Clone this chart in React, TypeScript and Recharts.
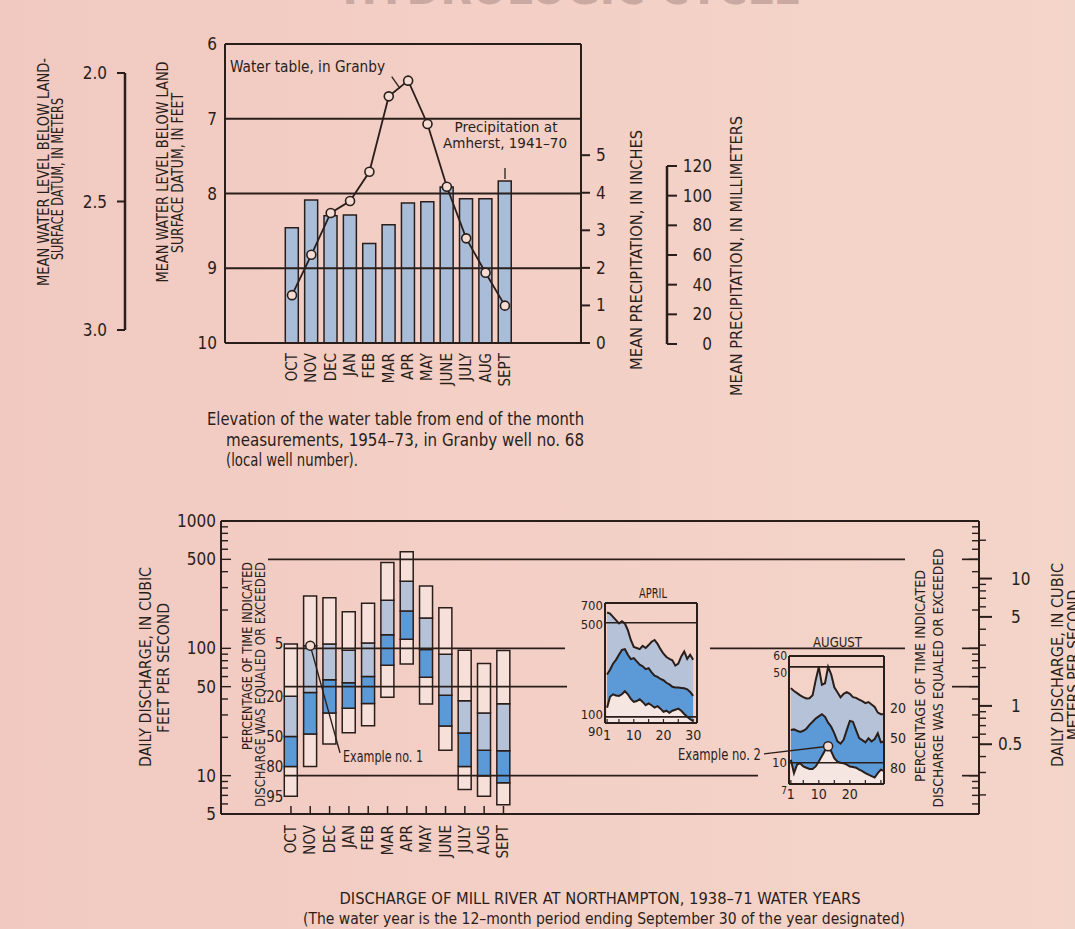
import React from "react";
import {
  ComposedChart,
  Bar,
  Line,
  Area,
  XAxis,
  YAxis,
  ReferenceLine,
  ReferenceDot,
} from "recharts";

const W = 1075;
const H = 929;
const FONT = "'Liberation Sans Narrow', 'Arial Narrow', 'DejaVu Sans Condensed', sans-serif";
const INK = "#2a1e1b";
const BAR_BLUE = "#a9bdd9";
const LIGHT_BLUE = "#b6c2d8";
const MID_BLUE = "#5b9ad7";
const PALE = "#f6e0d9";
const PALE_INSET = "#f5e6e2";
const DOT_FILL = "#f5dcd3";

// ---------- Top chart data ----------
const months = ["OCT", "NOV", "DEC", "JAN", "FEB", "MAR", "APR", "MAY", "JUNE", "JULY", "AUG", "SEPT"];
const monthIdx = [0, 1, 2, 3, 4, 5, 6, 7, 8, 9, 10, 11];
const precipInches = [3.07, 3.81, 3.39, 3.41, 2.65, 3.15, 3.73, 3.76, 4.15, 3.84, 3.84, 4.31];
const waterTableFeet = [9.36, 8.82, 8.26, 8.1, 7.71, 6.7, 6.49, 7.07, 7.91, 8.6, 9.06, 9.5];
const feetTicks = [6, 7, 8, 9, 10];
const inchTicks = [0, 1, 2, 3, 4, 5];
const meterTicks = [2.0, 2.5, 3.0];
const mmTicks = [0, 20, 40, 60, 80, 100, 120];

// ---------- Bottom chart data (cfs, flow-duration percentiles) ----------
const p5 = [108, 258, 250, 194, 226, 473, 574, 309, 208, 96.5, 76, 96];
const p20 = [42, 105, 108, 96.5, 110, 239, 337, 173, 89.7, 38.7, 31, 36.7];
const p50 = [20.3, 45, 56.6, 53.6, 60.1, 128, 196, 98, 42.8, 21.6, 15.8, 15.7];
const p80 = [11.8, 21.2, 31, 33.8, 36.9, 73.6, 118, 59.3, 24.5, 11.8, 10, 8.8];
const p95 = [6.9, 11.8, 17.7, 21.7, 24.7, 41.3, 75.5, 36.5, 15.8, 7.8, 6.9, 5.9];
const pctLabels = ["5", "20", "50", "80", "95"];
const cfsTicks = [5, 6, 7, 8, 9, 10, 20, 30, 40, 50, 60, 70, 80, 90, 100, 200, 300, 400, 500, 600, 700, 800, 900, 1000];
const cfsLabeled = [5, 10, 50, 100, 500, 1000];
const cmsTicks = [0.2, 0.3, 0.4, 0.5, 0.6, 0.7, 0.8, 0.9, 1, 2, 3, 4, 5, 6, 7, 8, 9, 10, 20];
const cmsLabeled = [0.5, 1, 5, 10];
const CFS_PER_CMS = 35.315;

// ---------- April inset ----------
const aprDays = [1, 2, 3, 4, 5, 6, 7, 8, 9, 10, 11, 12, 13, 14, 15, 16, 17, 18, 19, 20, 21, 22, 23, 24, 25, 26, 27, 28, 29, 30];
const aprP20 = [595, 584, 552, 522, 493, 512, 493, 440, 372, 330, 324, 318, 336, 324, 341, 361, 372, 348, 318, 294, 278, 269, 263, 240, 248, 281, 306, 269, 289, 265];
const aprP50 = [206, 224, 248, 265, 289, 314, 318, 289, 268, 273, 258, 244, 237, 226, 230, 214, 202, 198, 191, 187, 179, 174, 167, 165, 165, 164, 163, 160, 153, 143];
const aprP80 = [117, 141, 147, 144, 143, 147, 155, 147, 136, 129, 131, 135, 129, 122, 126, 122, 117, 120, 115, 109, 111, 107, 111, 113, 115, 111, 105, 100, 96, 93];
const aprYTicks = [90, 100, 500, 700];
const aprXTicks = [1, 5, 10, 15, 20, 25, 30];
const aprXLabels = [1, 10, 20, 30];

// ---------- August inset ----------
const augDays = [1, 2, 3, 4, 5, 6, 7, 8, 9, 10, 11, 12, 13, 14, 15, 16, 17, 18, 19, 20, 21, 22, 23, 24, 25, 26, 27, 28, 29, 30, 31];
const augP20 = [35, 33.3, 32.2, 31, 30.1, 29.4, 29.5, 31, 40, 50, 37, 38, 50, 44, 35.5, 32.7, 30, 31.8, 32.7, 31.8, 30.1, 29.7, 28.8, 28.1, 27.2, 27.7, 26.6, 25.5, 23.2, 22.6, 22.6];
const augP50 = [17.3, 17.5, 17.1, 16.8, 17.1, 17.7, 18.9, 19.9, 21, 21.8, 22.6, 21.6, 19.6, 18.3, 16.4, 14.3, 13.8, 14.7, 17.3, 20.2, 19.9, 17.3, 15.1, 14.6, 14.1, 15.1, 14.3, 14.9, 16.4, 14.1, 14.3];
const augP80 = [10.5, 8.4, 9.7, 9.9, 9.4, 9.2, 9, 9, 9.4, 10.2, 11.2, 12.3, 12.8, 12.1, 10.8, 10.2, 10, 9.9, 9.7, 9.4, 9.3, 9.2, 8.9, 8.7, 8.4, 8.2, 8, 7.8, 8.4, 8.9, 8.7];
const augYTicks = [7, 10, 50, 60];
const augXTicks = [1, 5, 10, 15, 20, 25, 30];
const augXLabels = [1, 10, 20];
const example2 = { day: 13, v: 13.2 };

// ---------- layout ----------
const B_L = 221, B_R = 979, B_X0 = -3.62, B_X1 = 35.61;
const pxToBX = (px: number) => B_X0 + ((px - B_L) / (B_R - B_L)) * (B_X1 - B_X0);
const gridSegments = [
  { v: 500, a: 268, b: 905 }, { v: 500, a: 962, b: 979 },
  { v: 100, a: 284, b: 565 }, { v: 100, a: 710, b: 905 }, { v: 100, a: 962, b: 979 },
  { v: 50, a: 284, b: 567 }, { v: 50, a: 952, b: 979 },
  { v: 10, a: 284, b: 758 }, { v: 10, a: 962, b: 979 },
];
// label nudges (px) and sizes for the stacked inset y-labels
const aprYLabelStyle: any = { 700: [2, 13], 500: [2, 13], 100: [-2, 13], 90: [8, 13] };
const augYLabelStyle: any = { 60: [0, 12], 50: [6, 12], 10: [0, 13], 7: [6, 10] };

const topData = months.map((m, i) => ({ i, precip: precipInches[i], wt: waterTableFeet[i] }));
const boxData = months.map((m, i) => ({
  i,
  lo: [p95[i], p80[i]],
  lm: [p80[i], p50[i]],
  um: [p50[i], p20[i]],
  hi: [p20[i], p5[i]],
}));
const aprData = aprDays.map((d, k) => ({
  day: d, top: aprP20[k], mid: aprP50[k], bot: aprP80[k],
  band0: [aprYTicks[0], aprP80[k]], band1: [aprP50[k], aprP20[k]], band2: [aprP80[k], aprP50[k]],
}));
const augData = augDays.map((d, k) => ({
  day: d, top: augP20[k], mid: augP50[k], bot: augP80[k],
  band0: [augYTicks[0], augP80[k]], band1: [augP50[k], augP20[k]], band2: [augP80[k], augP50[k]],
}));

// ---------- tick renderers ----------
const topMonthTick = (p: any) => (
  <text transform={`translate(${p.x},${p.y + 10}) rotate(-90)`} textAnchor="end" dominantBaseline="central"
    fontSize={15} fontFamily={FONT} fill={INK}>{months[p.payload.value]}</text>
);
const bottomMonthTick = (p: any) => (
  <g>
    <line x1={p.x} x2={p.x} y1={p.y} y2={p.y - 8} stroke={INK} strokeWidth={1.5} />
    <text transform={`translate(${p.x},${p.y + 11}) rotate(-90)`} textAnchor="end" dominantBaseline="central"
      fontSize={15} fontFamily={FONT} fill={INK}>{months[p.payload.value]}</text>
  </g>
);
const cfsLeftTick = (p: any) => {
  const v = p.payload.value;
  const major = cfsLabeled.includes(v);
  return (
    <g>
      <line x1={p.x} x2={p.x + (major ? 10 : 7)} y1={p.y} y2={p.y} stroke={INK} strokeWidth={1.4} />
      {major && (
        <text x={p.x - 5} y={p.y} textAnchor="end" dominantBaseline="central" fontSize={17} fontFamily={FONT} fill={INK}>{v}</text>
      )}
    </g>
  );
};
const cfsRightTick = (p: any) => {
  const v = p.payload.value;
  const major = cfsLabeled.includes(v);
  return <line x1={p.x} x2={p.x - (major ? 10 : 7)} y1={p.y} y2={p.y} stroke={INK} strokeWidth={1.4} />;
};
const cmsTick = (p: any) => {
  const v = p.payload.value;
  const major = cmsLabeled.includes(v);
  return (
    <g>
      <line x1={p.x} x2={p.x + (major ? 12 : 6)} y1={p.y} y2={p.y} stroke={INK} strokeWidth={major ? 2 : 1.4} />
      {major && (
        <text x={p.x + (v < 1 ? 18 : 31)} y={p.y} textAnchor="start" dominantBaseline="central" fontSize={17} fontFamily={FONT} fill={INK}>{v}</text>
      )}
    </g>
  );
};
const mmTick = (p: any) => (
  <text x={p.x + 35} y={p.y} textAnchor="end" dominantBaseline="central" fontSize={17} fontFamily={FONT} fill={INK}>{p.payload.value}</text>
);
const makeInsetXTick = (labels: number[], dy: number) => (p: any) => {
  const v = p.payload.value;
  return (
    <g>
      <line x1={p.x} x2={p.x} y1={p.y} y2={p.y - 4} stroke={INK} strokeWidth={1.2} />
      {labels.includes(v) && (
        <text x={p.x} y={p.y + dy} textAnchor="middle" dominantBaseline="central" fontSize={14} fontFamily={FONT} fill={INK}>{v}</text>
      )}
    </g>
  );
};
const makeInsetYTick = (styleMap: any) => (p: any) => {
  const v = p.payload.value;
  const [dy, size] = styleMap[v] || [0, 13];
  return (
    <text x={p.x - 2} y={p.y + dy} textAnchor="end" dominantBaseline="central"
      fontSize={size} fontFamily={FONT} fill={INK}>{v}</text>
  );
};

const Layer = ({ children }: any) => (
  <div style={{ position: "absolute", left: 0, top: 0, width: W, height: H }}>{children}</div>
);

// Axes are 1px wide/tall (Recharts skips zero-size axes), margins compensate.
function TopChart() {
  return (
    <ComposedChart width={W} height={H} data={topData} margin={{ top: 44, right: W - 581 - 1, bottom: H - 343 - 1, left: 224 }}>
      <XAxis dataKey="i" type="number" domain={[-3.46, 14.93]} allowDataOverflow ticks={monthIdx} interval={0}
        height={1} tickSize={0} tickMargin={0} tickLine={false} axisLine={{ stroke: INK, strokeWidth: 2 }} tick={topMonthTick} />
      <YAxis yAxisId="ft" type="number" reversed domain={[6, 10]} allowDataOverflow ticks={feetTicks} interval={0}
        width={1} tickSize={0} tickMargin={8} tickLine={false} axisLine={{ stroke: INK, strokeWidth: 2 }}
        tick={{ fill: INK, fontSize: 17, fontFamily: FONT }} />
      <YAxis yAxisId="in" orientation="right" type="number" domain={[0, 7.96]} allowDataOverflow ticks={inchTicks} interval={0}
        width={1} tickSize={9} tickMargin={6} tickLine={{ stroke: INK, strokeWidth: 2 }} axisLine={{ stroke: INK, strokeWidth: 2 }}
        tick={{ fill: INK, fontSize: 17, fontFamily: FONT }} />
      <Bar yAxisId="in" dataKey="precip" barSize={13} fill={BAR_BLUE} stroke={INK} strokeWidth={1.5} isAnimationActive={false} />
      {[6, 7, 8, 9].map((v) => (
        <ReferenceLine key={v} yAxisId="ft" y={v} stroke={INK} strokeWidth={v === 6 ? 2 : 1.8} ifOverflow="visible" />
      ))}
      <Line yAxisId="ft" dataKey="wt" type="linear" stroke={INK} strokeWidth={1.8}
        dot={{ r: 4.5, fill: DOT_FILL, stroke: INK, strokeWidth: 1.6 }} isAnimationActive={false} />
    </ComposedChart>
  );
}

function MeterBracket() {
  return (
    <ComposedChart width={W} height={H} data={[]} margin={{ top: 73, right: W - 140, bottom: H - 330, left: 124 }}>
      <XAxis type="number" domain={[0, 1]} hide />
      <YAxis type="number" reversed domain={[2, 3]} allowDataOverflow ticks={meterTicks} interval={0} width={1}
        tickSize={8} tickMargin={10} tickLine={{ stroke: INK, strokeWidth: 2 }} axisLine={{ stroke: INK, strokeWidth: 2.5 }}
        tickFormatter={(v: number) => v.toFixed(1)} tick={{ fill: INK, fontSize: 17, fontFamily: FONT }} />
    </ComposedChart>
  );
}

function MmBracket() {
  return (
    <ComposedChart width={W} height={H} data={[]} margin={{ top: 166, right: W - 667 - 1, bottom: H - 344, left: 640 }}>
      <XAxis type="number" domain={[0, 1]} hide />
      <YAxis orientation="right" type="number" domain={[0, 120]} allowDataOverflow ticks={mmTicks} interval={0} width={1}
        tickSize={10} tickMargin={0} tickLine={{ stroke: INK, strokeWidth: 2 }} axisLine={{ stroke: INK, strokeWidth: 2.5 }}
        tick={mmTick} />
    </ComposedChart>
  );
}

function BottomChart() {
  return (
    <ComposedChart width={W} height={H} data={boxData} margin={{ top: 521, right: W - B_R - 2, bottom: H - 814 - 1, left: B_L - 1 }} barGap={-13}>
      <XAxis dataKey="i" type="number" domain={[B_X0, B_X1]} allowDataOverflow ticks={monthIdx} interval={0}
        height={1} tickSize={0} tickMargin={0} tickLine={false} axisLine={{ stroke: INK, strokeWidth: 2 }} tick={bottomMonthTick} />
      <YAxis yAxisId="cfs" type="number" scale="log" domain={[5, 1000]} allowDataOverflow ticks={cfsTicks} interval={0}
        width={1} tickSize={0} tickMargin={0} tickLine={false} axisLine={{ stroke: INK, strokeWidth: 2 }} tick={cfsLeftTick} />
      <YAxis yAxisId="cfsR" orientation="right" type="number" scale="log" domain={[5, 1000]} allowDataOverflow ticks={cfsTicks} interval={0}
        width={1} tickSize={0} tickMargin={0} tickLine={false} axisLine={{ stroke: INK, strokeWidth: 2 }} tick={cfsRightTick} />
      <YAxis yAxisId="cms" orientation="right" type="number" scale="log" domain={[5 / CFS_PER_CMS, 1000 / CFS_PER_CMS]} allowDataOverflow
        ticks={cmsTicks} interval={0} width={1} tickSize={0} tickMargin={0} tickLine={false} axisLine={false} tick={cmsTick} />
      <Bar yAxisId="cfs" dataKey="lo" barSize={13} fill={PALE} stroke={INK} strokeWidth={1.5} isAnimationActive={false} />
      <Bar yAxisId="cfs" dataKey="lm" barSize={13} fill={MID_BLUE} stroke={INK} strokeWidth={1.5} isAnimationActive={false} />
      <Bar yAxisId="cfs" dataKey="um" barSize={13} fill={LIGHT_BLUE} stroke={INK} strokeWidth={1.5} isAnimationActive={false} />
      <Bar yAxisId="cfs" dataKey="hi" barSize={13} fill={PALE} stroke={INK} strokeWidth={1.5} isAnimationActive={false} />
      <ReferenceLine yAxisId="cfs" y={1000} stroke={INK} strokeWidth={2} ifOverflow="visible" />
      {gridSegments.map((s, k) => (
        <ReferenceLine key={k} yAxisId="cfs" ifOverflow="visible" stroke={INK} strokeWidth={1.7}
          segment={[{ x: pxToBX(s.a), y: s.v }, { x: pxToBX(s.b), y: s.v }]} />
      ))}
      <ReferenceLine yAxisId="cfs" ifOverflow="visible" stroke={INK} strokeWidth={1.4}
        segment={[{ x: 1, y: p20[1] }, { x: 2.54, y: 15.1 }]} />
      <ReferenceDot yAxisId="cfs" x={1} y={p20[1]} r={4.5} fill={DOT_FILL} stroke={INK} strokeWidth={1.5} ifOverflow="visible" />
      {[p5[0], p20[0], p50[0], p80[0], p95[0]].map((v, k) => (
        <ReferenceDot key={"pl" + k} yAxisId="cfs" x={0} y={v} r={0.5} fill="none" stroke="none" ifOverflow="visible"
          label={{ value: pctLabels[k], position: "left", offset: 7, fill: INK, fontSize: 15, fontFamily: FONT }} />
      ))}
    </ComposedChart>
  );
}

function Inset({ data, left, right, top, bottom, xDomain, yDomain, yTicks, xTicks, xLabels, xdy, yStyle, grid, children }: any) {
  return (
    <ComposedChart width={W} height={H} data={data} margin={{ top, bottom: H - bottom - 1, left: left - 1, right: W - right - 1 }}>
      <XAxis dataKey="day" type="number" domain={xDomain} allowDataOverflow ticks={xTicks} interval={0}
        height={1} tickSize={0} tickMargin={0} tickLine={false} axisLine={{ stroke: INK, strokeWidth: 2 }}
        tick={makeInsetXTick(xLabels, xdy)} />
      <YAxis yAxisId="l" type="number" scale="log" domain={yDomain} allowDataOverflow ticks={yTicks} interval={0}
        width={1} tickSize={0} tickMargin={0} tickLine={false} axisLine={{ stroke: INK, strokeWidth: 2 }}
        tick={makeInsetYTick(yStyle)} />
      <YAxis yAxisId="r" orientation="right" type="number" scale="log" domain={yDomain} allowDataOverflow ticks={yTicks}
        width={1} tick={false} tickLine={false} axisLine={{ stroke: INK, strokeWidth: 2 }} />
      <Area yAxisId="l" dataKey="band0" type="linear" stroke="none" fill={PALE_INSET} fillOpacity={1} isAnimationActive={false} />
      <Area yAxisId="l" dataKey="band1" type="linear" stroke="none" fill={LIGHT_BLUE} fillOpacity={1} isAnimationActive={false} />
      <Area yAxisId="l" dataKey="band2" type="linear" stroke="none" fill={MID_BLUE} fillOpacity={1} isAnimationActive={false} />
      <Line yAxisId="l" dataKey="top" type="linear" stroke={INK} strokeWidth={2} dot={false} isAnimationActive={false} />
      <Line yAxisId="l" dataKey="mid" type="linear" stroke={INK} strokeWidth={2} dot={false} isAnimationActive={false} />
      <Line yAxisId="l" dataKey="bot" type="linear" stroke={INK} strokeWidth={2} dot={false} isAnimationActive={false} />
      <ReferenceLine yAxisId="l" y={yDomain[1]} stroke={INK} strokeWidth={2} ifOverflow="visible" />
      {grid.map((v: number) => (
        <ReferenceLine key={v} yAxisId="l" y={v} stroke={INK} strokeWidth={1.6} ifOverflow="visible" />
      ))}
      {children}
    </ComposedChart>
  );
}

const T = ({ x, y, children, size = 15, anchor = "start", len, rot, weight, fill = INK, baseline }: any) => (
  <text
    x={x}
    y={y}
    fontSize={size}
    fontFamily={FONT}
    fontWeight={weight}
    textAnchor={anchor}
    fill={fill}
    textLength={len}
    lengthAdjust={len ? "spacingAndGlyphs" : undefined}
    transform={rot ? `rotate(-90 ${x} ${y})` : undefined}
    dominantBaseline={rot ? "central" : baseline}
  >
    {children}
  </text>
);

export default function App() {
  return (
    <div
      style={{
        position: "absolute",
        left: 0,
        top: 0,
        width: W,
        height: H,
        overflow: "hidden",
        background: "linear-gradient(90deg, #f1c9c1 0%, #f3cfc5 45%, #f4d5c9 100%)",
        fontFamily: FONT,
      }}
    >
      <Layer><TopChart /></Layer>
      <Layer><MeterBracket /></Layer>
      <Layer><MmBracket /></Layer>
      <Layer><BottomChart /></Layer>
      <Layer>
        <Inset data={aprData} left={605} right={697} top={603} bottom={723} xDomain={[0.3, 31.3]} yDomain={[90, 700]}
          yTicks={aprYTicks} xTicks={aprXTicks} xLabels={aprXLabels} xdy={12} yStyle={aprYLabelStyle} grid={[500, 100]} />
      </Layer>
      <Layer>
        <Inset data={augData} left={789} right={884} top={656} bottom={784} xDomain={[0.4, 31]} yDomain={[7, 60]}
          yTicks={augYTicks} xTicks={augXTicks} xLabels={augXLabels} xdy={10} yStyle={augYLabelStyle} grid={[50, 10]}>
          <ReferenceLine yAxisId="l" ifOverflow="visible" stroke={INK} strokeWidth={1.4}
            segment={[{ x: example2.day, y: example2.v }, { x: -7.65, y: 11.6 }]} />
          <ReferenceDot yAxisId="l" x={example2.day} y={example2.v} r={4.5} fill={DOT_FILL} stroke={INK} strokeWidth={1.5} ifOverflow="visible" />
        </Inset>
      </Layer>
      <svg width={W} height={H} style={{ position: "absolute", left: 0, top: 0, pointerEvents: "none" }}>
        <T x={572} y={4} size={46} weight="bold" anchor="middle" len={459} fill="#c9a9a2">HYDROLOGIC CYCLE</T>

        <T x={44} y={172} rot anchor="middle" len={228}>MEAN WATER LEVEL BELOW LAND-</T>
        <T x={58} y={179} rot anchor="middle" len={162}>SURFACE DATUM, IN METERS</T>
        <T x={163} y={172} rot anchor="middle" len={221}>MEAN WATER LEVEL BELOW LAND</T>
        <T x={178} y={173} rot anchor="middle" len={160}>SURFACE DATUM, IN FEET</T>
        <T x={637} y={250} rot anchor="middle" len={240}>MEAN PRECIPITATION, IN INCHES</T>
        <T x={737} y={256} rot anchor="middle" len={280}>MEAN PRECIPITATION, IN MILLIMETERS</T>

        <T x={230} y={72} len={155}>Water table, in Granby</T>
        <line x1={391.7} y1={76.7} x2={400} y2={88.3} stroke={INK} strokeWidth={1.3} />
        <T x={506} y={132} size={14} anchor="middle" len={103}>Precipitation at</T>
        <T x={505} y={148} size={14} anchor="middle" len={124}>Amherst, 1941–70</T>
        <line x1={505} y1={168} x2={505} y2={179} stroke={INK} strokeWidth={1.3} />

        <T x={207} y={425} size={17} len={377}>Elevation of the water table from end of the month</T>
        <T x={226} y={445.5} size={17} len={358}>measurements, 1954–73, in Granby well no. 68</T>
        <T x={226} y={466} size={17} len={132}>(local well number).</T>

        <T x={145} y={667} rot anchor="middle" len={200} size={16}>DAILY DISCHARGE, IN CUBIC</T>
        <T x={163} y={668} rot anchor="middle" len={130} size={16}>FEET PER SECOND</T>
        <T x={247} y={562} rot anchor="end" len={188} size={14}>PERCENTAGE OF TIME INDICATED</T>
        <T x={260} y={562} rot anchor="end" len={245} size={14}>DISCHARGE WAS EQUALED OR EXCEEDED</T>
        <T x={920} y={676} rot anchor="middle" len={212} size={14}>PERCENTAGE OF TIME INDICATED</T>
        <T x={938} y={678} rot anchor="middle" len={259} size={14}>DISCHARGE WAS EQUALED OR EXCEEDED</T>
        <T x={1057} y={665} rot anchor="middle" len={204} size={16}>DAILY DISCHARGE, IN CUBIC</T>
        <T x={1073} y={665} rot anchor="middle" len={150} size={16}>METERS PER SECOND</T>

        <T x={343} y={762} len={80}>Example no. 1</T>
        <T x={678} y={760} len={83}>Example no. 2</T>
        <T x={653} y={598} anchor="middle" len={28} size={14}>APRIL</T>
        <T x={837.5} y={647} anchor="middle" len={49} size={14}>AUGUST</T>
        <T x={890} y={708} size={14} baseline="central">20</T>
        <T x={890} y={738} size={14} baseline="central">50</T>
        <T x={890} y={768} size={14} baseline="central">80</T>

        <T x={600} y={904} anchor="middle" size={16} len={521}>DISCHARGE OF MILL RIVER AT NORTHAMPTON, 1938–71 WATER YEARS</T>
        <T x={604} y={924} anchor="middle" size={16} len={602}>(The water year is the 12–month period ending September 30 of the year designated)</T>
      </svg>
    </div>
  );
}
